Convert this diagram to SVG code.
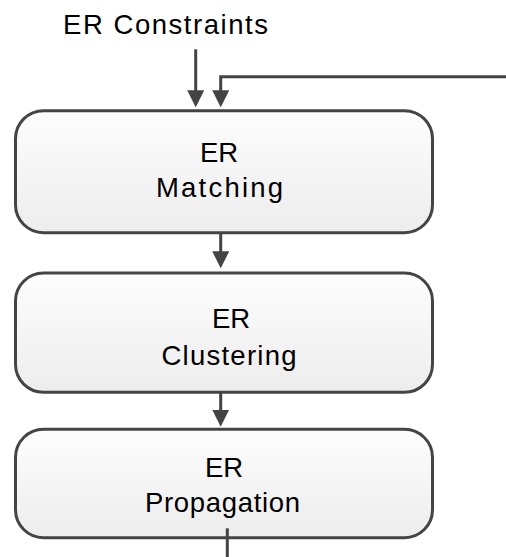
<svg xmlns="http://www.w3.org/2000/svg" width="506" height="557" viewBox="0 0 506 557">
<defs>
<linearGradient id="g" x1="0" y1="0" x2="0" y2="1">
<stop offset="0" stop-color="#fdfdfd"/>
<stop offset="1" stop-color="#ededed"/>
</linearGradient>
<marker id="ah" viewBox="0 0 17 17" refX="9" refY="8.5" markerWidth="17" markerHeight="17" markerUnits="userSpaceOnUse" orient="auto">
<path d="M0,0 L17,8.5 L0,17 z" fill="#444"/>
</marker>
<style>
.box{fill:url(#g);stroke:#444;stroke-width:3}
.t{font-family:"Liberation Sans",Arial,sans-serif;font-size:27.5px;fill:#000;text-anchor:middle}
.c{fill:none;stroke:#444;stroke-width:3}
</style>
</defs>
<rect width="506" height="557" fill="#fff"/>
<text class="t" x="165.5" y="34" textLength="205" lengthAdjust="spacing">ER Constraints</text>
<g id="matching">
<rect class="box" x="15.5" y="110.7" width="417" height="122" rx="28"/>
<text class="t" x="219" y="162">ER</text>
<text class="t" x="219.5" y="197" textLength="127" lengthAdjust="spacing">Matching</text>
</g>
<g id="clustering">
<rect class="box" x="15.5" y="273" width="417" height="119.3" rx="28"/>
<text class="t" x="231" y="328">ER</text>
<text class="t" x="229" y="364.5" textLength="135" lengthAdjust="spacing">Clustering</text>
</g>
<g id="propagation">
<rect class="box" x="15.5" y="429.3" width="417" height="108.4" rx="28"/>
<text class="t" x="224" y="477">ER</text>
<text class="t" x="222.5" y="512" textLength="155" lengthAdjust="spacing">Propagation</text>
</g>
<g id="connectors">
<path class="c" d="M195.7,49.3 V99.3" marker-end="url(#ah)"/>
<path class="c" d="M506,76.7 H220.7 V99.3" marker-end="url(#ah)"/>
<path class="c" d="M220.7,233 V260.3" marker-end="url(#ah)"/>
<path class="c" d="M220.7,392.3 V418.7" marker-end="url(#ah)"/>
<path class="c" d="M227.3,528.3 V557"/>
</g>
</svg>
